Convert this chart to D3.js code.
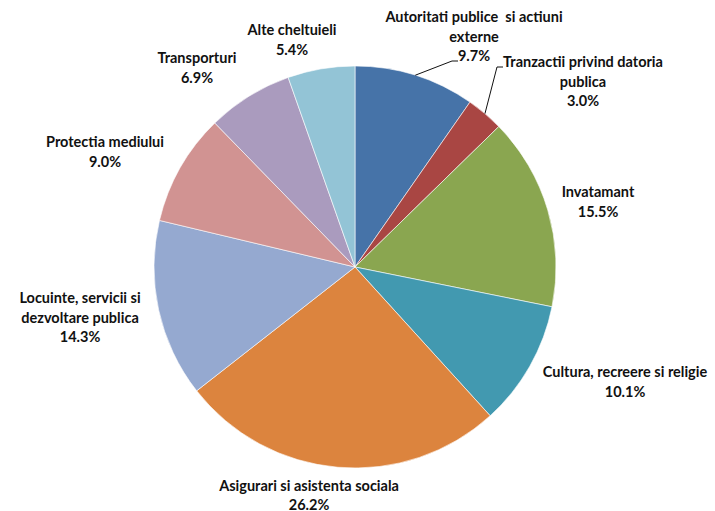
<!DOCTYPE html>
<html>
<head>
<meta charset="utf-8">
<script src="https://cdn.jsdelivr.net/npm/d3@7"></script>
<style>
  html, body { margin: 0; padding: 0; background: #fff; }
  svg text { font-family: Lato, "Liberation Sans", sans-serif; font-weight: bold; fill: #111; }
</style>
</head>
<body>
<svg id="chart" width="715" height="511"></svg>
<script>
// Budget spending shares by function (%)
const categories = [
  "Autoritati publice si actiuni externe",
  "Tranzactii privind datoria publica",
  "Invatamant",
  "Cultura, recreere si religie",
  "Asigurari si asistenta sociala",
  "Locuinte, servicii si dezvoltare publica",
  "Protectia mediului",
  "Transporturi",
  "Alte cheltuieli"
];
const values = [9.7, 3.0, 15.5, 10.1, 26.2, 14.3, 9.0, 6.9, 5.4];

// Label text lines for each slice (name split as displayed)
const labelLines = [
  ["Autoritati publice  si actiuni", "externe"],
  ["Tranzactii privind datoria", "publica"],
  ["Invatamant"],
  ["Cultura, recreere si religie"],
  ["Asigurari si asistenta sociala"],
  ["Locuinte, servicii si", "dezvoltare publica"],
  ["Protectia mediului"],
  ["Transporturi"],
  ["Alte cheltuieli"]
];

const colors = ["#4673A8", "#A94643", "#8AA650", "#4299B0", "#DC843E",
                "#95A9D0", "#D19392", "#AA9BBE", "#93C4D6"];

// Layout: label anchor (centre x, first baseline y) and optional leader elbow
const labelLayout = [
  { x: 474, y: 22, elbow: [452, 61], end: [458, 61] },
  { x: 583, y: 67, elbow: [497, 67], end: [503, 67] },
  { x: 598, y: 197 },
  { x: 625, y: 377 },
  { x: 309, y: 491, lh: 18.5 },
  { x: 80,  y: 303 },
  { x: 105, y: 147 },
  { x: 197, y: 63 },
  { x: 292, y: 35 }
];

const cx = 355, cy = 267, radius = 201;
const lineH = 19.5;

const svg = d3.select("#chart");
const g = svg.append("g").attr("transform", `translate(${cx},${cy})`);

const data = categories.map((c, i) => ({ name: c, value: values[i], idx: i }));

const pie = d3.pie().value(d => d.value).sort(null);
const arc = d3.arc().innerRadius(0).outerRadius(radius);
const arcs = pie(data);

g.selectAll("path.slice")
  .data(arcs)
  .join("path")
  .attr("class", "slice")
  .attr("d", arc)
  .attr("fill", d => colors[d.data.idx])
  .attr("stroke", "#ffffff")
  .attr("stroke-width", 0.6);

// Leader lines for slices whose labels sit away from the pie
arcs.forEach(a => {
  const L = labelLayout[a.data.idx];
  if (!L.elbow) return;
  const mid = (a.startAngle + a.endAngle) / 2;
  const sx = cx + radius * Math.sin(mid);
  const sy = cy - radius * Math.cos(mid);
  svg.append("polyline")
    .attr("points", [[sx, sy], L.elbow, L.end].map(p => p.join(",")).join(" "))
    .attr("fill", "none")
    .attr("stroke", "#111")
    .attr("stroke-width", 1);
});

// Labels: name lines followed by percentage
const fmt = d3.format(".1f");
arcs.forEach(a => {
  const i = a.data.idx;
  const L = labelLayout[i];
  const lh = L.lh || lineH;
  const lines = labelLines[i].concat([fmt(a.data.value) + "%"]);
  const t = svg.append("text")
    .attr("text-anchor", "middle")
    .attr("font-size", 14.5);
  lines.forEach((ln, k) => {
    t.append("tspan")
      .attr("x", L.x)
      .attr("y", L.y + k * lh)
      .attr("xml:space", "preserve")
      .text(ln);
  });
});
</script>
</body>
</html>
